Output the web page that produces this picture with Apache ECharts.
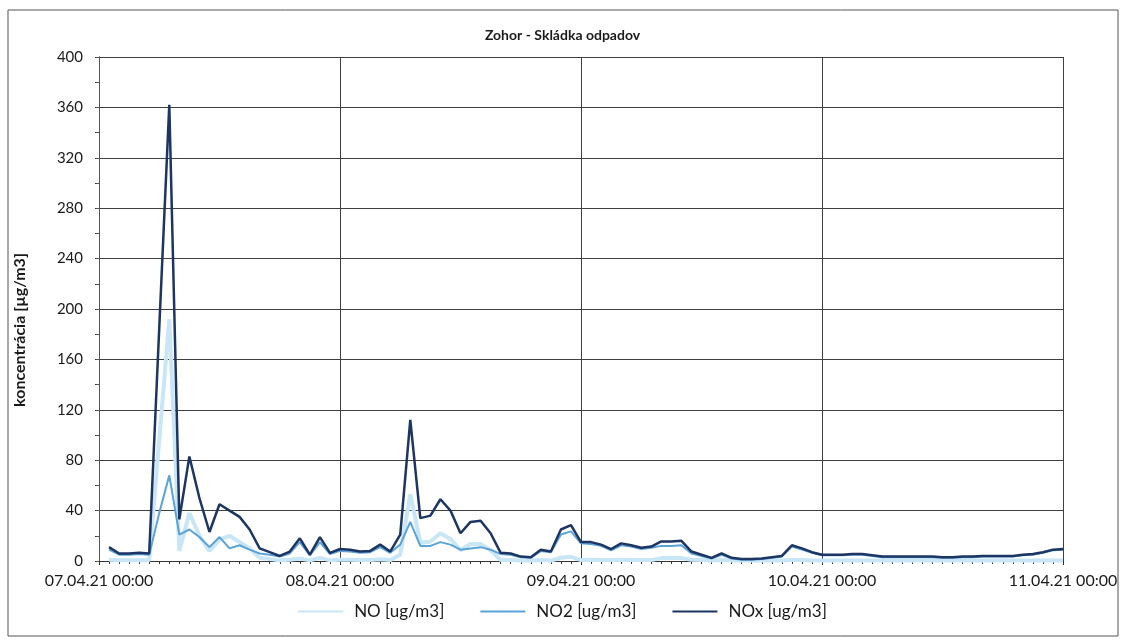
<!DOCTYPE html>
<html lang="sk">
<head>
  <meta charset="UTF-8">
  <title>Zohor - Skládka odpadov</title>
  <script src="https://cdn.jsdelivr.net/npm/echarts@6/dist/echarts.min.js"></script>
  <style>
    body { margin: 0; background: #fff; }
  </style>
</head>
<body>
  <div id="main" style="width: 1125px;height:641px;"></div>

  <script type="text/javascript">
    // x axis ticks: one per day, data are hourly (01:00 on 07.04 .. 00:00 on 11.04)
    const tickLabels = ['07.04.21 00:00', '08.04.21 00:00', '09.04.21 00:00', '10.04.21 00:00', '11.04.21 00:00'];
    const hours = Array.from({ length: 96 }, (_, i) => i + 1);

    const no = [
      1, 0.5, 0.5, 0.5, 0.5, 96, 192, 8, 38, 20, 8, 17, 20, 15, 10, 2.5, 1.5, 0.5, 1, 2, 0.5, 2.5, 0.5, 1,
      1, 0.7, 0.7, 1.3, 0.7, 5, 53, 14.5, 15.5, 22, 17.5, 8.5, 13.5, 13.5, 8.5, 0.7, 0.7, 0.3, 0.3, 0.7, 0.3, 2.6, 3.3, 0.7,
      1, 0.7, 0.7, 1, 0.7, 0.7, 0.7, 2.3, 2.3, 2.3, 1, 0.7, 0.3, 0.7, 0.3, 0.3, 0.3, 0.3, 0.3, 0.3, 0.7, 0.7, 0.3, 0.3,
      0.3, 0.3, 0.3, 0.3, 0.3, 0.3, 0.3, 0.3, 0.3, 0.3, 0.3, 0.3, 0.3, 0.3, 0.3, 0.3, 0.3, 0.3, 0.3, 0.3, 0.3, 0.3, 0.3, 0.3
    ];
    const no2 = [
      9, 5, 5, 5.5, 5, 38, 68, 21, 25, 19, 11, 19, 10, 12.5, 9, 6, 5, 3.5, 6, 15, 4.5, 15, 5.5, 8,
      7.5, 6.5, 7, 11, 6.5, 13, 31, 12, 12, 15, 13, 9, 10, 11, 9, 5.5, 5, 3, 2.5, 8, 7, 21, 23.5, 14,
      13.5, 12, 8.5, 12.5, 11.5, 9.5, 10.5, 12, 12, 12.5, 6, 4, 2, 5, 2, 1, 1, 1.5, 2.5, 3.5, 11.5, 9, 6.5, 4.5,
      4.5, 4.5, 5, 5, 4, 3, 3, 3, 3, 3, 3, 2.5, 2.5, 3, 3, 3.5, 3.5, 3.5, 3.5, 4.5, 5, 6.5, 8.5, 9
    ];
    const nox = [
      11, 6, 6, 6.5, 6, 185, 362, 33, 83, 50, 23, 45, 40, 35, 25, 10, 7, 4, 7.5, 18, 5, 19, 6.5, 9.5,
      9, 7.5, 8, 13, 7.5, 21, 112, 34, 36, 49, 40, 22, 31, 32, 22, 6.5, 6, 3.5, 3, 9, 7.5, 25, 28.5, 15,
      15, 13, 9.5, 14, 12.5, 10.5, 11.5, 15.5, 15.5, 16, 7.5, 5, 2.5, 6, 2.5, 1.5, 1.5, 2, 3, 4, 12.5, 10, 7, 5,
      5, 5, 5.5, 5.5, 4.5, 3.5, 3.5, 3.5, 3.5, 3.5, 3.5, 3, 3, 3.5, 3.5, 4, 4, 4, 4, 5, 5.5, 7, 9, 9.5
    ];

    const pair = arr => hours.map((h, i) => [h, arr[i]]);
    const font = 'Lato';
    const gridColor = '#3f3f3f';

    let options = {
      animation: false,
      backgroundColor: '#fff',
      title: {
        text: 'Zohor - Skládka odpadov',
        left: 'center',
        top: 23,
        textStyle: { fontFamily: font, fontSize: 14, fontWeight: 'bold', color: '#1a1a1a' }
      },
      grid: { left: 99, right: 62, top: 57, bottom: 80 },
      legend: {
        bottom: 16,
        left: 'center',
        itemGap: 36,
        itemWidth: 45,
        itemHeight: 2,
        icon: 'rect',
        textStyle: { fontFamily: font, fontSize: 17, color: '#1a1a1a', padding: [0, 0, 0, 6] },
        data: ['NO [ug/m3]', 'NO2 [ug/m3]', 'NOx [ug/m3]']
      },
      xAxis: [{
        type: 'value',
        min: 0,
        max: 96,
        interval: 24,
        axisLine: { show: true, onZero: false, lineStyle: { color: '#222', width: 1 } },
        axisTick: { show: true, length: 4, lineStyle: { color: '#222' } },
        minorTick: { show: true, splitNumber: 24, length: 3, lineStyle: { color: '#333' } },
        splitLine: { show: true, lineStyle: { color: gridColor, width: 1 } },
        axisLabel: {
          fontFamily: font, fontSize: 16, color: '#1a1a1a', margin: 12,
          formatter: v => tickLabels[v / 24]
        }
      }, {
        type: 'value',
        position: 'top',
        min: 0,
        max: 96,
        interval: 24,
        axisLine: { show: true, lineStyle: { color: '#333', width: 1 } },
        axisTick: { show: true, inside: true, length: 3, lineStyle: { color: '#333' } },
        minorTick: { show: true, splitNumber: 24, length: 3, lineStyle: { color: '#333' } },
        splitLine: { show: false },
        axisLabel: { show: false }
      }],
      yAxis: [{
        type: 'value',
        min: 0,
        max: 400,
        interval: 40,
        axisLine: { show: true, lineStyle: { color: '#333', width: 1 } },
        axisTick: { show: true, length: 4, lineStyle: { color: '#333' } },
        minorTick: { show: true, splitNumber: 2, length: 4, lineStyle: { color: '#333' } },
        splitLine: { show: true, lineStyle: { color: gridColor, width: 1 } },
        axisLabel: { fontFamily: font, fontSize: 15, color: '#1a1a1a', margin: 16 }
      }, {
        type: 'value',
        position: 'right',
        min: 0,
        max: 400,
        interval: 40,
        axisLine: { show: true, lineStyle: { color: '#555', width: 1 } },
        axisTick: { show: true, inside: true, length: 3, lineStyle: { color: '#555' } },
        minorTick: { show: true, splitNumber: 2, length: 3, lineStyle: { color: '#555' } },
        splitLine: { show: false },
        axisLabel: { show: false }
      }],
      graphic: [{
        type: 'rect',
        shape: { x: 8, y: 10, width: 1110, height: 626 },
        style: { fill: 'none', stroke: '#555', lineWidth: 1 },
        silent: true
      }, {
        type: 'text',
        x: 20,
        y: 330,
        rotation: Math.PI / 2,
        style: {
          text: 'koncentrácia [µg/m3]',
          fontFamily: font, fontSize: 16, fontWeight: 'bold', fill: '#1a1a1a',
          textAlign: 'center', textVerticalAlign: 'middle'
        }
      }],
      series: [{
        name: 'NO [ug/m3]',
        type: 'line',
        data: pair(no),
        showSymbol: false,
        color: '#c8e6f6',
        lineStyle: { width: 4, color: '#c8e6f6' }
      }, {
        name: 'NO2 [ug/m3]',
        type: 'line',
        data: pair(no2),
        showSymbol: false,
        color: '#5aa3d8',
        lineStyle: { width: 2, color: '#5aa3d8' }
      }, {
        name: 'NOx [ug/m3]',
        type: 'line',
        data: pair(nox),
        showSymbol: false,
        color: '#1d3563',
        lineStyle: { width: 2.5, color: '#1d3563' }
      }]
    };

    let myChart = echarts.init(document.getElementById('main'));
    myChart.setOption(options);
  </script>
</body>
</html>
